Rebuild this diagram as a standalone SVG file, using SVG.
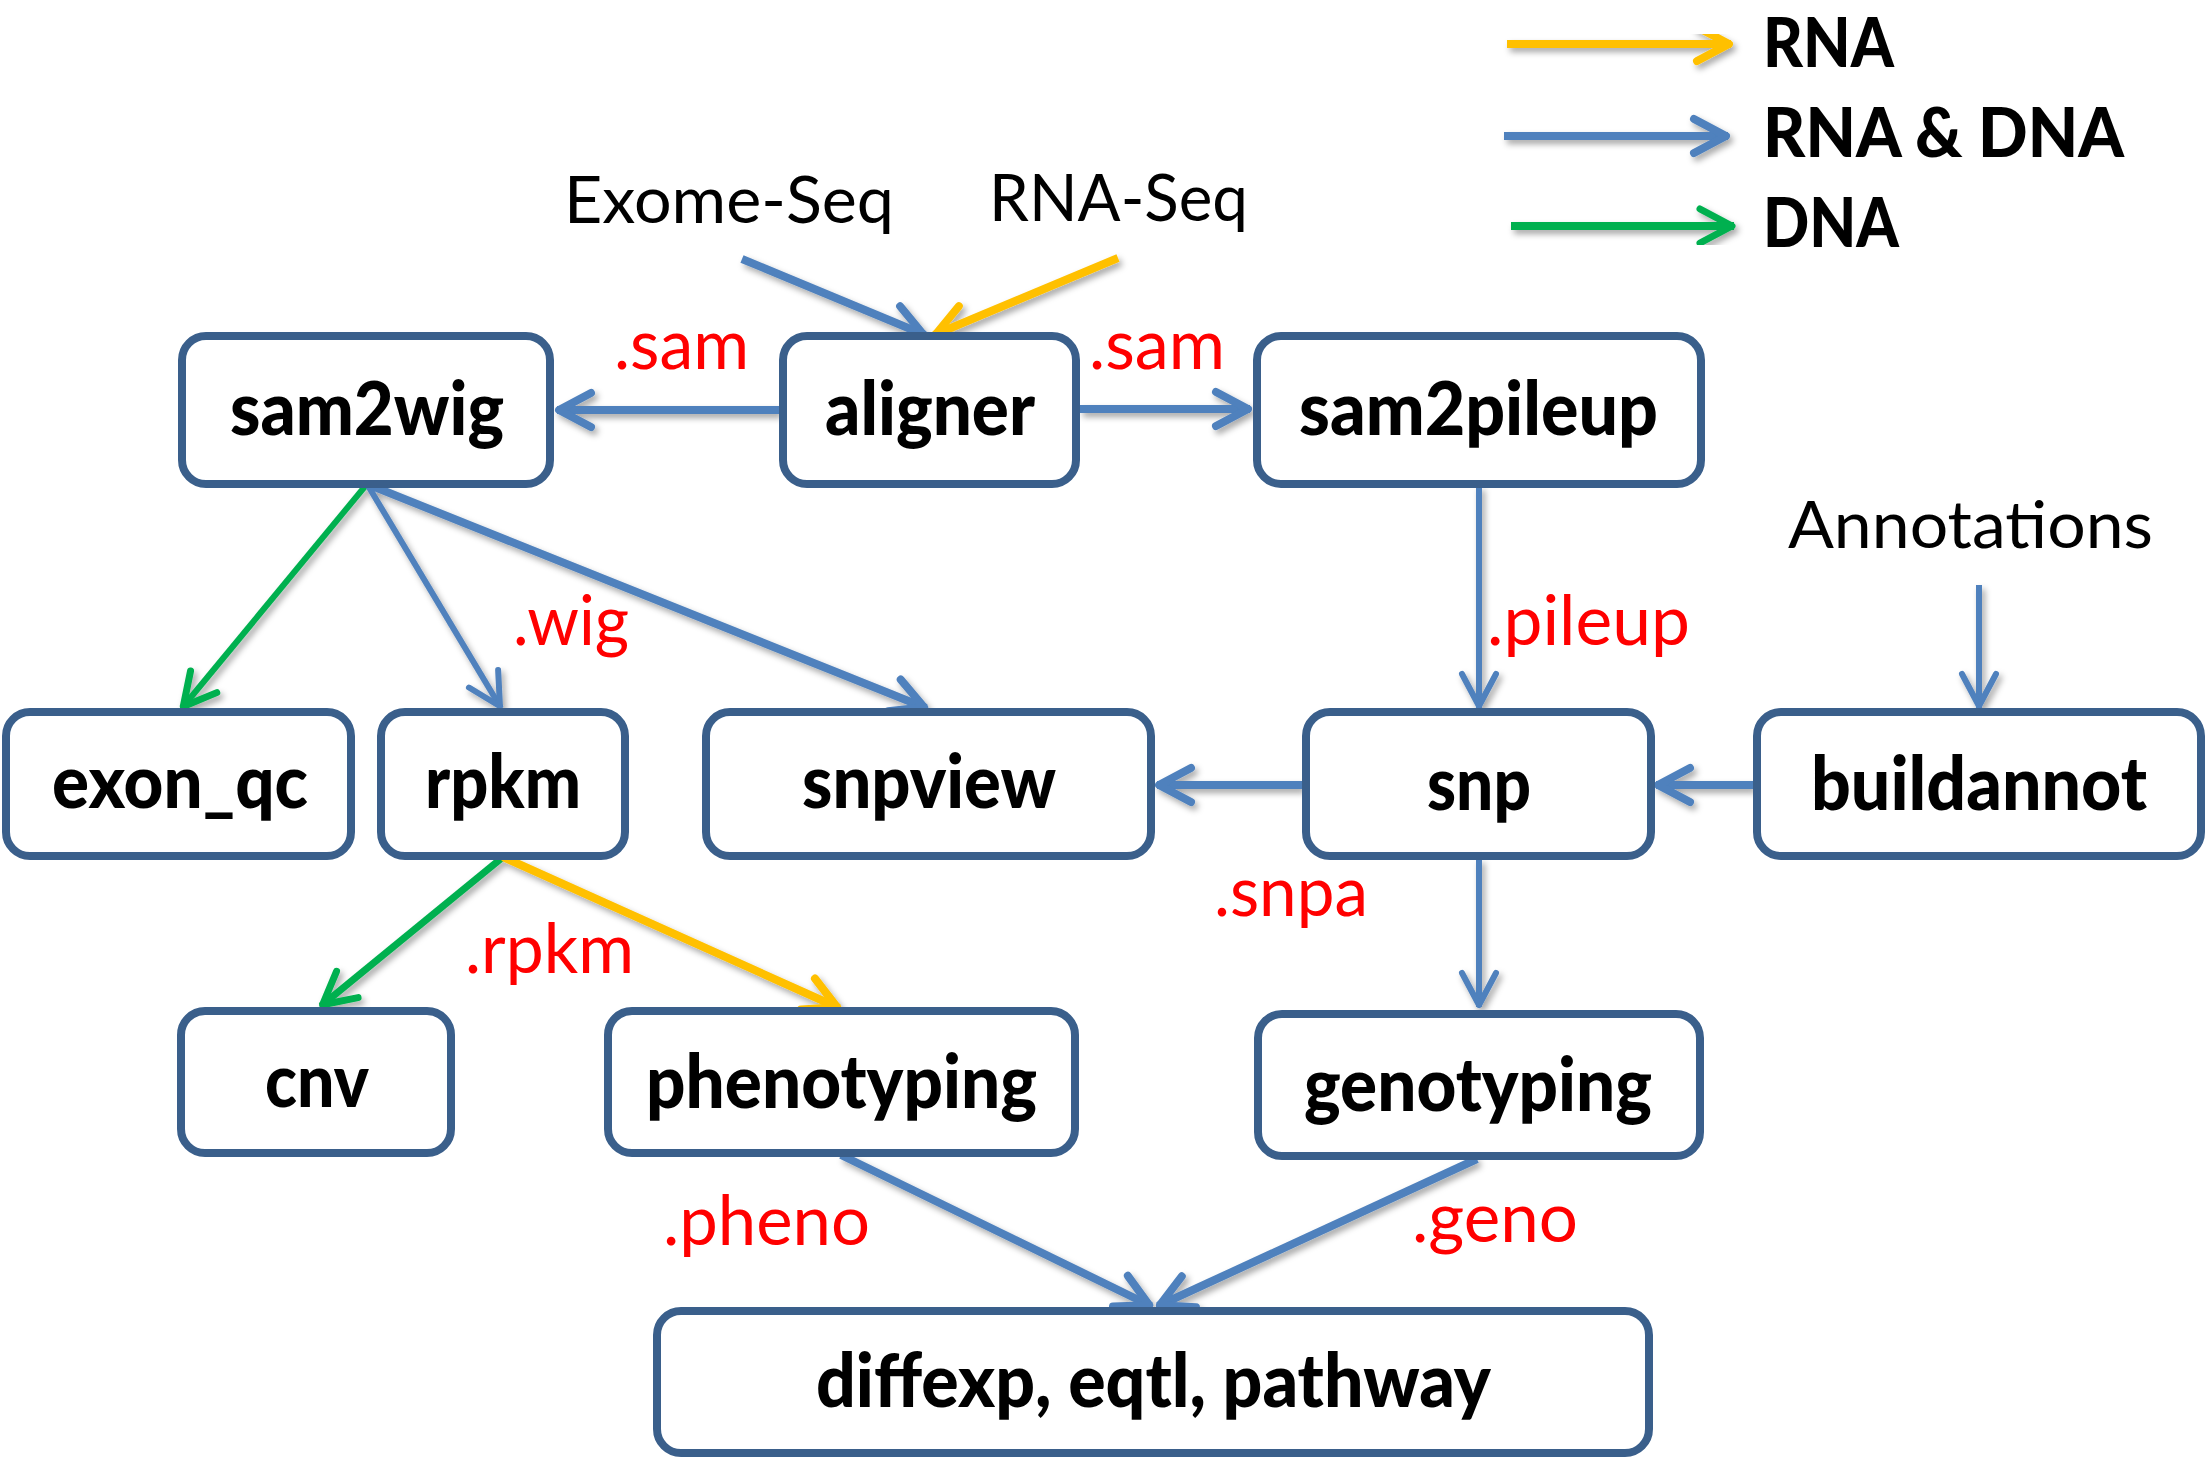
<svg xmlns="http://www.w3.org/2000/svg" width="2208" height="1461" viewBox="0 0 2208 1461">
<defs>
<style>
.box{fill:#fff;stroke:#3A5F8B;stroke-width:8}
.nt{font-family:Lato,"Liberation Sans",sans-serif;font-weight:900;font-size:74px;fill:#000}
.lt{font-family:Lato,"Liberation Sans",sans-serif;font-size:70px;fill:#FF0000}
.bt{font-family:Lato,"Liberation Sans",sans-serif;font-size:66px;fill:#000}
.gt{font-family:Lato,"Liberation Sans",sans-serif;font-weight:900;font-size:68px;fill:#000}
.c{fill:none;stroke-linecap:butt}
.blue{stroke:#4F81BD}
.yel{stroke:#FFC000}
.grn{stroke:#00B050}
</style>
<filter id="sh" x="-5%" y="-5%" width="110%" height="115%">
<feDropShadow dx="3" dy="4" stdDeviation="3" flood-color="#000" flood-opacity="0.35"/>
</filter>
<marker id="mb" markerUnits="userSpaceOnUse" orient="auto" overflow="visible" refX="0" refY="0" markerWidth="1" markerHeight="1"><path d="M-34,-17 L-2,0 L-34,17" fill="none" stroke="#4F81BD" stroke-width="8" stroke-linecap="round" stroke-linejoin="round"/></marker>
<marker id="mbt" markerUnits="userSpaceOnUse" orient="auto" overflow="visible" refX="0" refY="0" markerWidth="1" markerHeight="1"><path d="M-34,-17 L-2,0 L-34,17" fill="none" stroke="#4F81BD" stroke-width="6" stroke-linecap="round" stroke-linejoin="round"/></marker>
<marker id="my" markerUnits="userSpaceOnUse" orient="auto" overflow="visible" refX="0" refY="0" markerWidth="1" markerHeight="1"><path d="M-34,-17 L-2,0 L-34,17" fill="none" stroke="#FFC000" stroke-width="8" stroke-linecap="round" stroke-linejoin="round"/></marker>
<marker id="mg" markerUnits="userSpaceOnUse" orient="auto" overflow="visible" refX="0" refY="0" markerWidth="1" markerHeight="1"><path d="M-34,-17 L-2,0 L-34,17" fill="none" stroke="#00B050" stroke-width="7" stroke-linecap="round" stroke-linejoin="round"/></marker>
</defs>
<rect width="2208" height="1461" fill="#fff"/>

<g id="legend">
<g filter="url(#sh)">
<line class="c yel" x1="1507" y1="44" x2="1731" y2="44" stroke-width="8" marker-end="url(#my)"/>
<line class="c blue" x1="1504" y1="136" x2="1728" y2="136" stroke-width="8" marker-end="url(#mb)"/>
<line class="c grn" x1="1511" y1="226" x2="1734" y2="226" stroke-width="8" marker-end="url(#mg)"/>
</g>
<text class="gt" x="1763" y="67" textLength="131" lengthAdjust="spacingAndGlyphs">RNA</text>
<text class="gt" x="1763" y="157" textLength="361" lengthAdjust="spacingAndGlyphs">RNA &amp; DNA</text>
<text class="gt" x="1763" y="247" textLength="136" lengthAdjust="spacingAndGlyphs">DNA</text>
</g>

<g id="connectors" filter="url(#sh)">
<line class="c blue" x1="742" y1="259" x2="925" y2="335" stroke-width="8" marker-end="url(#mb)"/>
<line class="c yel" x1="1118" y1="258" x2="934" y2="335" stroke-width="8" marker-end="url(#my)"/>
<line class="c blue" x1="779" y1="410" x2="557" y2="410" stroke-width="8" marker-end="url(#mb)"/>
<line class="c blue" x1="1080" y1="409" x2="1250" y2="409" stroke-width="8" marker-end="url(#mb)"/>
<line class="c grn" x1="367" y1="484" x2="182" y2="708" stroke-width="6" marker-end="url(#mg)"/>
<line class="c blue" x1="367" y1="484" x2="501" y2="708" stroke-width="6" marker-end="url(#mbt)"/>
<line class="c blue" x1="367" y1="484" x2="926" y2="708" stroke-width="8" marker-end="url(#mb)"/>
<line class="c blue" x1="1479" y1="486" x2="1479" y2="708" stroke-width="6" marker-end="url(#mbt)"/>
<line class="c blue" x1="1979" y1="585" x2="1979" y2="708" stroke-width="6" marker-end="url(#mbt)"/>
<line class="c blue" x1="1302" y1="785" x2="1157" y2="785" stroke-width="8" marker-end="url(#mb)"/>
<line class="c blue" x1="1753" y1="785" x2="1656" y2="785" stroke-width="8" marker-end="url(#mb)"/>
<line class="c blue" x1="1479" y1="859" x2="1479" y2="1007" stroke-width="6" marker-end="url(#mbt)"/>
<line class="c grn" x1="503" y1="857" x2="321" y2="1006" stroke-width="7" marker-end="url(#mg)"/>
<line class="c yel" x1="503" y1="857" x2="839" y2="1008" stroke-width="8" marker-end="url(#my)"/>
<line class="c blue" x1="841" y1="1155" x2="1151" y2="1306" stroke-width="8" marker-end="url(#mb)"/>
<line class="c blue" x1="1477" y1="1159" x2="1158" y2="1306" stroke-width="8" marker-end="url(#mb)"/>
</g>

<g id="inputs">
<text class="bt" x="564" y="223" textLength="330" lengthAdjust="spacingAndGlyphs">Exome-Seq</text>
<text class="bt" x="989" y="221" textLength="259" lengthAdjust="spacingAndGlyphs">RNA-Seq</text>
<text class="bt" x="1788" y="548" textLength="365" lengthAdjust="spacingAndGlyphs">Annotations</text>
</g>

<g id="labels">
<text class="lt" x="614" y="369" textLength="135" lengthAdjust="spacingAndGlyphs">.sam</text>
<text class="lt" x="1089" y="369" textLength="136" lengthAdjust="spacingAndGlyphs">.sam</text>
<text class="lt" x="513" y="645" textLength="116" lengthAdjust="spacingAndGlyphs">.wig</text>
<text class="lt" x="1487" y="645" textLength="203" lengthAdjust="spacingAndGlyphs">.pileup</text>
<text class="lt" x="1214" y="916" textLength="154" lengthAdjust="spacingAndGlyphs">.snpa</text>
<text class="lt" x="465" y="973" textLength="169" lengthAdjust="spacingAndGlyphs">.rpkm</text>
<text class="lt" x="663" y="1245" textLength="207" lengthAdjust="spacingAndGlyphs">.pheno</text>
<text class="lt" x="1412" y="1242" textLength="166" lengthAdjust="spacingAndGlyphs">.geno</text>
</g>

<g id="sam2wig"><rect class="box" x="182" y="336" width="368" height="148" rx="24"/><text class="nt" x="230" y="435" textLength="274" lengthAdjust="spacingAndGlyphs">sam2wig</text></g>
<g id="aligner"><rect class="box" x="783" y="336" width="293" height="148" rx="24"/><text class="nt" x="825" y="435" textLength="210" lengthAdjust="spacingAndGlyphs">aligner</text></g>
<g id="sam2pileup"><rect class="box" x="1257" y="336" width="444" height="148" rx="24"/><text class="nt" x="1299" y="435" textLength="359" lengthAdjust="spacingAndGlyphs">sam2pileup</text></g>
<g id="exon_qc"><rect class="box" x="6" y="712" width="345" height="144" rx="24"/><text class="nt" x="52" y="808" textLength="256" lengthAdjust="spacingAndGlyphs">exon_qc</text></g>
<g id="rpkm"><rect class="box" x="381" y="712" width="244" height="144" rx="24"/><text class="nt" x="425" y="808" textLength="156" lengthAdjust="spacingAndGlyphs">rpkm</text></g>
<g id="snpview"><rect class="box" x="706" y="712" width="445" height="144" rx="24"/><text class="nt" x="802" y="808" textLength="254" lengthAdjust="spacingAndGlyphs">snpview</text></g>
<g id="snp"><rect class="box" x="1306" y="712" width="345" height="144" rx="24"/><text class="nt" x="1427" y="810" textLength="104" lengthAdjust="spacingAndGlyphs">snp</text></g>
<g id="buildannot"><rect class="box" x="1757" y="712" width="444" height="144" rx="24"/><text class="nt" x="1811" y="810" textLength="336" lengthAdjust="spacingAndGlyphs">buildannot</text></g>
<g id="cnv"><rect class="box" x="181" y="1011" width="270" height="142" rx="24"/><text class="nt" x="265" y="1107" textLength="104" lengthAdjust="spacingAndGlyphs">cnv</text></g>
<g id="phenotyping"><rect class="box" x="608" y="1011" width="467" height="142" rx="24"/><text class="nt" x="646" y="1108" textLength="391" lengthAdjust="spacingAndGlyphs">phenotyping</text></g>
<g id="genotyping"><rect class="box" x="1258" y="1014" width="442" height="142" rx="24"/><text class="nt" x="1304" y="1111" textLength="348" lengthAdjust="spacingAndGlyphs">genotyping</text></g>
<g id="diffexp"><rect class="box" x="657" y="1311" width="992" height="142" rx="24"/><text class="nt" x="816" y="1407" textLength="675" lengthAdjust="spacingAndGlyphs">diffexp, eqtl, pathway</text></g>
</svg>
